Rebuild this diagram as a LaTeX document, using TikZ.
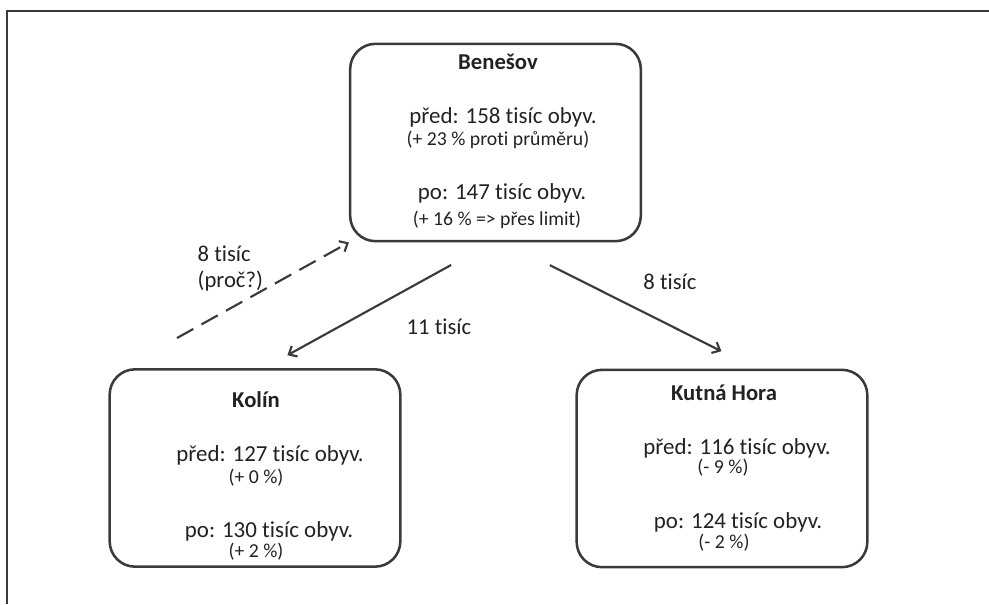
\documentclass[tikz,border=0pt]{standalone}
\usepackage{fontspec}
\setmainfont{Carlito}[Ligatures={NoCommon}]
\usepackage{tikz}
\usetikzlibrary{
  arrows.meta,
  positioning,
  calc,
}
\definecolor{ink}{HTML}{3A3A3A}
\definecolor{textink}{HTML}{222222}
\tikzset{
  >={Straight Barb[length=5pt,width=9pt]},
  every node/.append style={text=textink},
  city/.style={
    draw=ink,
    line width=1.9pt,
    rounded corners=19pt,
    minimum width=218pt,
    minimum height=148pt,
    inner sep=0pt,
  },
  cityname/.style={font=\fontsize{17}{20}\selectfont\bfseries},
  count/.style={font=\fontsize{17.2}{20}\selectfont},
  change/.style={font=\fontsize{14.8}{17}\selectfont},
  flow/.style={draw=ink, line width=1.6pt, ->},
  flowlabel/.style={font=\fontsize{17}{20}\selectfont},
}

\begin{document}
\begin{tikzpicture}[x=0.75pt,y=-0.75pt]
  \useasboundingbox (0,0) rectangle (989,604);
  \draw[ink, line width=1.5pt] (7,604) -- (7,11) -- (989,11);

  % Benesov
  \node[city] (ben) at (495.5,142.5) {};
  \node[cityname] (ben-name) at (498,62) {Benešov};
  \node[count] (ben-pre) at (503,117) {před: 158 tisíc obyv.};
  \node[change] (ben-prec) at (498,140) {(+ 23 \% proti průměru)};
  \node[count] (ben-post) at (502,193) {po: 147 tisíc obyv.};
  \node[change] (ben-postc) at (497,220) {(+ 16 \% => přes limit)};

  % Kolin
  \node[city] (kol) at (255,468) {};
  \node[cityname] (kol-name) at (256,400) {Kolín};
  \node[count] (kol-pre) at (270,455) {před: 127 tisíc obyv.};
  \node[change] (kol-prec) at (256,478) {(+ 0 \%)};
  \node[count] (kol-post) at (269,531) {po: 130 tisíc obyv.};
  \node[change] (kol-postc) at (256,552) {(+ 2 \%)};

  % Kutna Hora
  \node[city] (kh) at (722,468.5) {};
  \node[cityname] (kh-name) at (724,393) {Kutná Hora};
  \node[count] (kh-pre) at (737,448) {před: 116 tisíc obyv.};
  \node[change] (kh-prec) at (723,468) {(- 9 \%)};
  \node[count] (kh-post) at (738,522) {po: 124 tisíc obyv.};
  \node[change] (kh-postc) at (724,543) {(- 2 \%)};

  % flows
  \draw[flow, shorten <=35pt, shorten >=20pt] ([xshift=-2.6pt]ben.south) -- ([xshift=6.8pt]kol.north);
  \draw[flow, shorten <=38pt, shorten >=29pt] ([xshift=6.8pt]ben.south) -- ([xshift=25.5pt]kh.north);
  \coordinate (back) at (177,338);
  \draw[flow, dash pattern=on 14pt off 7pt] (back) -- (ben.south west);

  \node[flowlabel, align=left, anchor=west] (back-lbl) at (193,268.5) {8 tisíc\\(proč?)};
  \node[flowlabel] (kol-lbl) at (439,327) {11 tisíc};
  \node[flowlabel] (kh-lbl) at (670,282) {8 tisíc};
\end{tikzpicture}
\end{document}
